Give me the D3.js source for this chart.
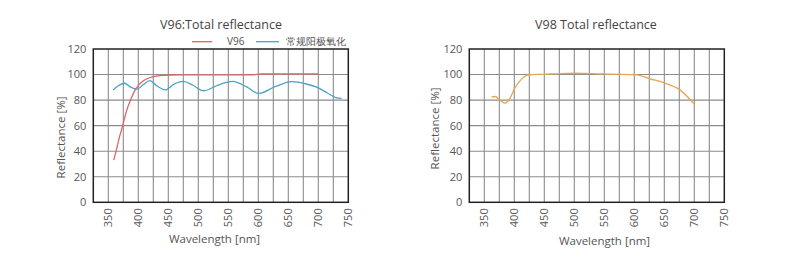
<!DOCTYPE html>
<html><head><meta charset="utf-8">
<script src="https://cdn.jsdelivr.net/npm/d3@7/dist/d3.min.js"></script>
<style>
html,body{margin:0;padding:0;background:#fff;}
text{font-family:"Open Sans","Noto Sans",sans-serif;fill:#555;}
</style></head>
<body>
<svg id="c" width="800" height="266"></svg>
<script>
// ---- data ----
const xTicks = [350,400,450,500,550,600,650,700,750];
const yTicks = [0,20,40,60,80,100,120];

const v96Wave = [359,363,368,374,380,387,396,408,422,440,470,590,605,700];
const v96Val  = [33,40,50,60,71,80,89,95,98,99.3,99.8,99.8,100.5,100.5];

const anoWave = [358,366,377,387,398,408,419,432,445,459,475,491,509,532,557,580,601,628,656,680,700,715,728,739];
const anoVal  = [88,91,93.2,90.2,88.6,92,95.2,90.8,88,92.3,94.6,91.6,87.3,91.5,94.6,90.5,85.2,90.5,94.4,92.6,89.6,85.6,82.2,81.3];

const v98Wave = [362,368,376,384.5,393,401,409.5,416,423,450,476,500,531,560,604,626,651,676,701];
const v98Val  = [82.4,82.8,80,77.6,81.6,89.4,95,98,99.8,100.2,100.8,101,100.8,100.3,99.8,96.7,93.3,88,76.3];

const titles = ["V96:Total reflectance","V98 Total reflectance"];
const legendNames = ["V96","常规阳极氧化"];
const colors = {red:"#e06464", blue:"#4aa2c4", orange:"#e6a650"};

const svg = d3.select("#c");

function panel(left, width, opts){
  const top = 49, bottom = 202.3;
  const x = d3.scaleLinear().domain([325,750]).range([left, left+width]);
  const y = d3.scaleLinear().domain([0,120]).range([bottom, top]);
  const g = svg.append("g");
  // vertical grid every 25 nm
  const vg = d3.range(350, 750, 25);
  g.selectAll(".vg").data(vg).join("line")
    .attr("x1", d=>x(d)).attr("x2", d=>x(d))
    .attr("y1", top).attr("y2", bottom)
    .attr("stroke","#8c8c8c").attr("stroke-width",1.1);
  g.selectAll(".hg").data(yTicks.slice(1,-1)).join("line")
    .attr("x1", x(325)).attr("x2", x(750))
    .attr("y1", d=>y(d)).attr("y2", d=>y(d))
    .attr("stroke","#8c8c8c").attr("stroke-width",1.1);
  // frame
  g.append("rect").attr("x",x(325)).attr("y",top)
    .attr("width",x(750)-x(325)).attr("height",bottom-top)
    .attr("fill","none").attr("stroke","#222").attr("stroke-width",1.5);
  // y ticks
  g.selectAll(".yt").data(yTicks).join("text")
    .attr("x", x(325)-7).attr("y", d=>y(d)).attr("dy","0.35em")
    .attr("text-anchor","end").style("font-size","11px").text(d=>d);
  // x ticks rotated
  g.selectAll(".xt").data(xTicks).join("text")
    .attr("transform", d=>`translate(${x(d)},${bottom+6}) rotate(-90)`)
    .attr("dy","0.35em").attr("text-anchor","end")
    .style("font-size","11px").text(d=>d);
  // axis labels
  g.append("text").attr("transform",`translate(${opts.ylx},${opts.yly}) rotate(-90)`)
    .attr("dy","0.35em").attr("text-anchor","middle").style("font-size","11.5px")
    .text("Reflectance [%]");
  g.append("text").attr("x",opts.xlx).attr("y",opts.xly).attr("dy","0.35em")
    .attr("text-anchor","middle").style("font-size","11.5px").text("Wavelength [nm]");
  g.append("text").attr("x",opts.tx).attr("y",28.5)
    .attr("text-anchor","middle").style("font-size","12.5px").style("fill","#444").text(opts.title);
  const line = d3.line().x(d=>x(d[0])).y(d=>y(d[1])).curve(d3.curveMonotoneX);
  opts.series.forEach(s=>{
    g.append("path").datum(d3.zip(s.w, s.v)).attr("d", line)
      .attr("fill","none").attr("stroke", s.c).attr("stroke-width",1.3);
  });
  return {x,y,g};
}

panel(93.3, 255, {
  title: titles[0], tx: 221, ylx: 61, yly: 137.5, xlx: 214.5, xly: 239,
  series: [
    {w: anoWave, v: anoVal, c: colors.blue},
    {w: v96Wave, v: v96Val, c: colors.red}
  ]
});
panel(469.3, 255, {
  title: titles[1], tx: 596, ylx: 434.5, yly: 128.5, xlx: 604.5, xly: 240.5,
  series: [{w: v98Wave, v: v98Val, c: colors.orange}]
});

// legend (left chart)
const lg = svg.append("g");
const legendItems = [
  {name: legendNames[0], c: colors.red, x1:192, x2:212, tx:227},
  {name: legendNames[1], c: colors.blue, x1:256, x2:279, tx:286}
];
legendItems.forEach(it=>{
  lg.append("line").attr("x1",it.x1).attr("x2",it.x2).attr("y1",41.7).attr("y2",41.7)
    .attr("stroke",it.c).attr("stroke-width",1.3);
  lg.append("text").attr("x",it.tx).attr("y",41.7).attr("dy","0.35em")
    .style("font-size","10px").text(it.name);
});
</script>
</body></html>
